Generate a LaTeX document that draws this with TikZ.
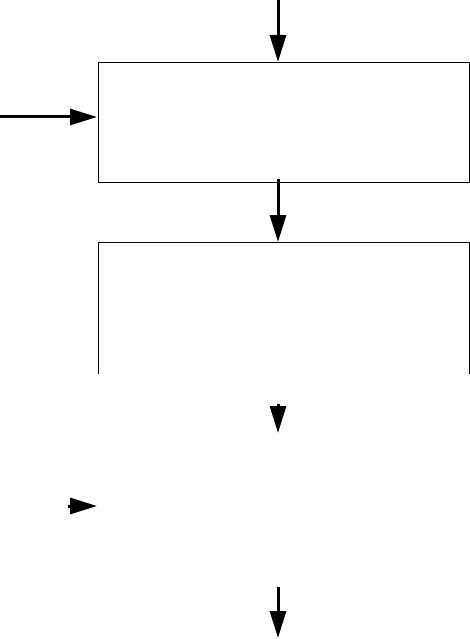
\documentclass[tikz,border=0pt]{standalone}
\usetikzlibrary{arrows.meta,calc}
\begin{document}
\begin{tikzpicture}[x=1pt,y=-1pt,
  boxline/.style={line width=1pt,draw=black},
  arr/.style={line width=3pt,-{Triangle[length=27pt,width=16pt]}}]
\useasboundingbox (0,0) rectangle (470,639);
% box 1
\node[boxline,anchor=north west,minimum width=371pt,minimum height=120pt,inner sep=0pt] (b1) at (98,62) {};
% box 2 (open at bottom)
\coordinate (b2tl) at (98,242);
\coordinate (b2tr) at (469,242);
\coordinate (b2bl) at (98,374);
\coordinate (b2br) at (469,374);
\draw[boxline] (b2bl) -- (b2tl) -- (b2tr) -- (b2br);
% connector end points
\coordinate (t0) at (278,0);
\coordinate (b1top) at (278,62);
\coordinate (l0) at (0,117);
\coordinate (b1left) at (97,117);
\coordinate (b1bot) at (278,179);
\coordinate (b2top) at (278,242);
\coordinate (m0) at (278,404);
\coordinate (m1) at (278,433);
\coordinate (r0) at (68,506);
\coordinate (r1) at (97,506);
\coordinate (e0) at (278,587);
\coordinate (e1) at (278,638);
% connectors
\draw[arr] (t0) -- (b1top);
\draw[arr] (l0) -- (b1left);
\draw[arr] (b1bot) -- (b2top);
\draw[arr] (m0) -- (m1);
\draw[arr] (r0) -- (r1);
\draw[arr] (e0) -- (e1);
\end{tikzpicture}
\end{document}
